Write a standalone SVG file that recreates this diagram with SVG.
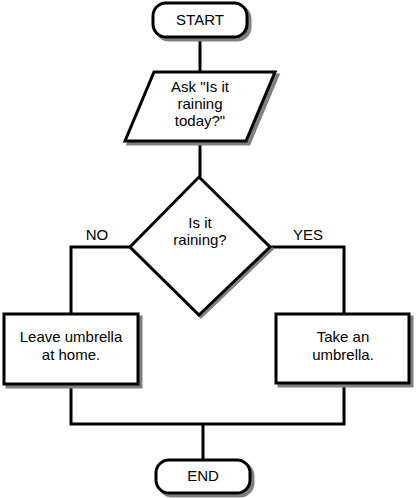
<svg xmlns="http://www.w3.org/2000/svg" width="420" height="498" viewBox="0 0 420 498">
<style>
.shape{fill:#fff;stroke:#000;stroke-width:3}
.shadow{fill:#808080;stroke:#808080;stroke-width:3}
.conn{fill:none;stroke:#000;stroke-width:3}
text{font-family:"Liberation Sans",Arial,sans-serif;font-size:15px;fill:#000;text-anchor:middle}
</style>
<rect width="420" height="498" fill="#fff"/>
<g id="connectors">
<line class="conn" x1="200" y1="37" x2="200" y2="72"/>
<line class="conn" x1="200" y1="142" x2="200" y2="177"/>
<polyline class="conn" points="130,247 71,247 71,314"/>
<polyline class="conn" points="271,247 344,247 344,314"/>
<polyline class="conn" points="71,384 71,424 344,424 344,384"/>
<line class="conn" x1="203" y1="424" x2="203" y2="460"/>
</g>
<g id="start">
<rect class="shadow" x="156" y="6" width="94" height="34" rx="13"/>
<rect class="shape" x="153" y="3" width="94" height="34" rx="13"/>
<text x="200" y="25">START</text>
</g>
<g id="ask">
<polygon class="shadow" points="157,75 278,75 249,144 128,144"/>
<polygon class="shape" points="154,72 275,72 246,141 125,141"/>
<text x="200" y="92">Ask "Is it</text>
<text x="200" y="109">raining</text>
<text x="200" y="126">today?"</text>
</g>
<g id="decision">
<polygon class="shadow" points="201,180 272,249 201,317 132,249" stroke-width="2"/>
<polygon class="shape" points="199,177 270,247 199,315 130,247" stroke-width="2.5"/>
<text x="200" y="228">Is it</text>
<text x="200" y="245">raining?</text>
</g>
<g id="no-label"><text x="97" y="240">NO</text></g>
<g id="yes-label"><text x="308" y="240">YES</text></g>
<g id="leave">
<rect class="shadow" x="7" y="317" width="134" height="70"/>
<rect class="shape" x="4" y="314" width="134" height="70"/>
<text x="71" y="342">Leave umbrella</text>
<text x="71" y="360">at home.</text>
</g>
<g id="take">
<rect class="shadow" x="279" y="317" width="133" height="69"/>
<rect class="shape" x="276" y="314" width="133" height="69"/>
<text x="343" y="342">Take an</text>
<text x="343" y="360">umbrella.</text>
</g>
<g id="end">
<rect class="shadow" x="159" y="463" width="94" height="33" rx="13"/>
<rect class="shape" x="156" y="460" width="94" height="33" rx="13"/>
<text x="203" y="481">END</text>
</g>
</svg>
